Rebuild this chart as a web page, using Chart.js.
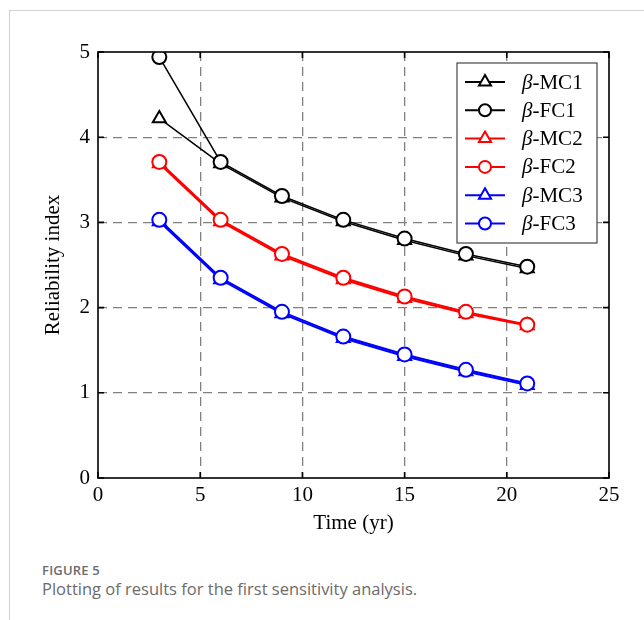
<!DOCTYPE html>
<html>
<head>
<meta charset="utf-8">
<script src="https://cdn.jsdelivr.net/npm/chart.js@4/dist/chart.umd.min.js"></script>
<style>
  html, body { margin: 0; padding: 0; background: #fff; }
  body { width: 644px; height: 620px; position: relative; overflow: hidden; }
  #frameTop { position: absolute; left: 9px; top: 10px; right: 0; height: 1px; background: #d0d0d0; }
  #frameLeft { position: absolute; left: 9px; top: 10px; width: 1px; bottom: 0; background: #d0d0d0; }
  #wrap { position: absolute; left: 0; top: 0; width: 644px; height: 540px; }
  #fig { position: absolute; left: 42px; top: 561px; font-family: "Open Sans", "Noto Sans", sans-serif; font-size: 13px; font-weight: 600; color: #6b6b6b; letter-spacing: 0.2px; }
  #cap { position: absolute; left: 42px; top: 577px; font-family: "Open Sans", "Noto Sans", sans-serif; font-size: 16.5px; color: #6b6b6b; }
</style>
</head>
<body>
<div id="frameTop"></div>
<div id="frameLeft"></div>
<div id="wrap"><canvas id="c"></canvas></div>
<div id="fig">FIGURE 5</div>
<div id="cap">Plotting of results for the first sensitivity analysis.</div>
<script>
// ---- data ----
const years = [3, 6, 9, 12, 15, 18, 21];
const mc1 = [4.22, 3.69, 3.29, 3.01, 2.79, 2.61, 2.46];
const fc1 = [4.94, 3.71, 3.31, 3.03, 2.81, 2.63, 2.48];
const mc2 = [3.69, 3.01, 2.61, 2.33, 2.11, 1.93, 1.79];
const fc2 = [3.71, 3.03, 2.63, 2.35, 2.13, 1.95, 1.80];
const mc3 = [3.01, 2.33, 1.93, 1.64, 1.43, 1.25, 1.09];
const fc3 = [3.03, 2.35, 1.95, 1.66, 1.45, 1.27, 1.11];
const seriesNames = ['MC1', 'FC1', 'MC2', 'FC2', 'MC3', 'FC3'];
const xTicks = [0, 5, 10, 15, 20, 25];
const yTicks = [0, 1, 2, 3, 4, 5];

const serif = '"Liberation Serif", "Times New Roman", serif';
const pts = arr => years.map((x, i) => ({ x: x, y: arr[i] }));

function ds(name, arr, color, style, lw, order) {
  return {
    label: name, data: pts(arr), borderColor: color, backgroundColor: '#fff',
    borderWidth: lw, pointStyle: style, pointRadius: style === 'circle' ? 7 : 7.5,
    pointBorderWidth: 2, pointBackgroundColor: '#fff', pointBorderColor: color,
    tension: 0, order: order, fill: false
  };
}

const datasets = [
  ds(seriesNames[0], mc1, '#000', 'triangle', 1.5, 6),
  ds(seriesNames[1], fc1, '#000', 'circle', 1.5, 5),
  ds(seriesNames[2], mc2, '#ff0000', 'triangle', 2, 4),
  ds(seriesNames[3], fc2, '#ff0000', 'circle', 2, 3),
  ds(seriesNames[4], mc3, '#0000ff', 'triangle', 2, 2),
  ds(seriesNames[5], fc3, '#0000ff', 'circle', 2, 1)
];

const framePlugin = {
  id: 'frame',
  afterDatasetsDraw(chart) {
    const ctx = chart.ctx, a = chart.chartArea;
    const xs = chart.scales.x, ys = chart.scales.y;
    ctx.save();
    ctx.strokeStyle = '#000';
    ctx.lineWidth = 1.6;
    ctx.setLineDash([]);
    ctx.strokeRect(a.left, a.top, a.right - a.left, a.bottom - a.top);
    const L = 6;
    xTicks.forEach(v => {
      const px = xs.getPixelForValue(v);
      ctx.beginPath();
      ctx.moveTo(px, a.bottom); ctx.lineTo(px, a.bottom - L);
      ctx.moveTo(px, a.top); ctx.lineTo(px, a.top + L);
      ctx.stroke();
    });
    yTicks.forEach(v => {
      const py = ys.getPixelForValue(v);
      ctx.beginPath();
      ctx.moveTo(a.left, py); ctx.lineTo(a.left + L, py);
      ctx.moveTo(a.right, py); ctx.lineTo(a.right - L, py);
      ctx.stroke();
    });
    ctx.restore();
  },
  afterDraw(chart) {
    const ctx = chart.ctx;
    const bx = 457, by = 63, bw = 140, bh = 180;
    ctx.save();
    ctx.fillStyle = '#fff';
    ctx.fillRect(bx, by, bw, bh);
    ctx.strokeStyle = '#444';
    ctx.lineWidth = 1.2;
    ctx.strokeRect(bx, by, bw, bh);
    const rowH = 28.3;
    chart.data.datasets.forEach((d, i) => {
      const cy = by + 19 + i * rowH;
      ctx.strokeStyle = d.borderColor;
      ctx.lineWidth = 2;
      ctx.beginPath(); ctx.moveTo(465, cy); ctx.lineTo(505, cy); ctx.stroke();
      ctx.fillStyle = '#fff';
      ctx.beginPath();
      if (d.pointStyle === 'circle') {
        ctx.arc(485, cy, 6, 0, Math.PI * 2);
      } else {
        const r = 7;
        ctx.moveTo(485, cy - r);
        ctx.lineTo(485 + r * 0.866, cy + r * 0.5);
        ctx.lineTo(485 - r * 0.866, cy + r * 0.5);
        ctx.closePath();
      }
      ctx.fill(); ctx.stroke();
      ctx.fillStyle = '#000';
      ctx.textBaseline = 'middle';
      ctx.font = 'italic 21px ' + serif;
      ctx.fillText('β', 522, cy + 1);
      const bwid = ctx.measureText('β').width;
      ctx.font = '21px ' + serif;
      ctx.fillText('-' + d.label, 522 + bwid, cy + 1);
    });
    ctx.restore();
  }
};

new Chart(document.getElementById('c'), {
  type: 'line',
  data: { datasets: datasets },
  options: {
    responsive: true, maintainAspectRatio: false, animation: false,
    layout: { padding: { left: 0, top: 52, right: 35, bottom: 0 } },
    plugins: { legend: { display: false }, tooltip: { enabled: false } },
    scales: {
      x: {
        type: 'linear', min: 0, max: 25,
        afterBuildTicks: s => { s.ticks = xTicks.map(v => ({ value: v })); },
        afterFit: s => { s.height = 62; },
        grid: {
          drawTicks: false,
          color: c => (c.tick && (c.tick.value === 0 || c.tick.value === 25)) ? 'rgba(0,0,0,0)' : '#808080',
          lineWidth: 1.3
        },
        border: { display: false, dash: [9, 6] },
        ticks: { color: '#000', font: { family: serif, size: 21 }, padding: 5, maxRotation: 0 },
        title: { display: true, text: 'Time (yr)', color: '#000', font: { family: serif, size: 21 }, padding: { top: 0 } }
      },
      y: {
        type: 'linear', min: 0, max: 5,
        afterBuildTicks: s => { s.ticks = yTicks.map(v => ({ value: v })); },
        afterFit: s => { s.width = 98; },
        grid: {
          drawTicks: false,
          color: c => (c.tick && (c.tick.value === 0 || c.tick.value === 5)) ? 'rgba(0,0,0,0)' : '#808080',
          lineWidth: 1.3
        },
        border: { display: false, dash: [9, 6] },
        ticks: { color: '#000', font: { family: serif, size: 21 }, padding: 8 },
        title: { display: true, text: 'Reliability index', color: '#000', font: { family: serif, size: 21 }, padding: { top: 41, bottom: 0 } }
      }
    }
  },
  plugins: [framePlugin]
});
</script>
</body>
</html>
